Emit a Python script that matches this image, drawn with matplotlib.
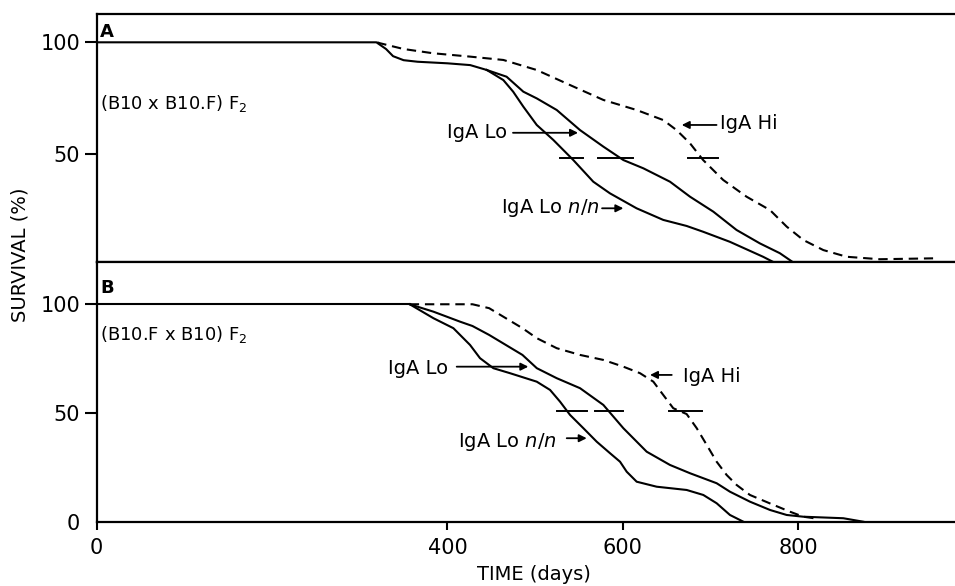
import matplotlib.pyplot as plt

# panel A : (B10 x B10.F) F2
a_common_x = [0, 319, 330, 338, 350, 366, 400, 426, 445]
a_common_y = [100, 100, 97, 93.8, 92, 91.3, 90.6, 89.8, 87.6]
a_lonn_x = [445, 463.8, 475, 486.6, 501.9, 520.8, 543.6, 566.4, 585.4, 615.8, 646.2, 672.8, 691.7, 722.2, 760.1, 780]
a_lonn_y = [87.6, 83.1, 77.9, 71.2, 63.0, 56.3, 47.3, 37.6, 32.4, 25.7, 20.5, 17.8, 15.2, 10.7, 4.0, 0]
a_lo_x = [445, 467.5, 486.6, 501.9, 524.7, 551.3, 577.9, 600.7, 623.5, 653.9, 676.7, 703.3, 729.8, 756.4, 779.2, 800]
a_lo_y = [87.6, 84.6, 77.9, 74.9, 69.7, 60.7, 53.3, 47.3, 43.6, 37.6, 30.9, 24.2, 16.0, 10.0, 5.6, 0]
a_hi_x = [320, 323, 350, 383.6, 425.7, 463.8, 501.9, 539.7, 577.9, 615.8, 646.2, 661.4, 676.7, 691.7, 714.5, 741.2, 768, 787, 806, 828.8, 855.4, 893.2, 954]
a_hi_y = [100, 99.6, 97, 95.1, 93.6, 92.1, 87.6, 80.9, 74.2, 69.7, 65.2, 60.7, 54.8, 47.3, 38.4, 30.9, 24.9, 17.5, 11.5, 7.0, 4.0, 2.9, 3.3]
a_med_y = 48
a_med = [(528.6, 555.1), (572.2, 612.1), (674.8, 709)]

# panel B : (B10.F x B10) F2
b_common_x = [0, 357]
b_common_y = [100, 100]
b_lonn_x = [357, 384, 406.8, 425.8, 437.2, 452.4, 471.4, 501.9, 517.1, 528.5, 539.9, 555.1, 570.3, 585.5, 596.9, 604.5, 615.9, 638.7, 672.9, 691.9, 707.1, 722.3, 737.6]
b_lonn_y = [100, 93.6, 89.0, 81.3, 75.2, 70.6, 68.3, 64.4, 60.6, 55.2, 49.1, 43.0, 36.8, 31.5, 27.6, 23.0, 18.4, 16.1, 14.6, 12.3, 8.5, 3.1, 0]
b_lo_x = [357, 384, 414.4, 428.6, 447.6, 466.6, 485.6, 502, 524.7, 551.3, 577.9, 600.7, 627.3, 653.9, 676.7, 707.1, 722.3, 745.2, 768, 787, 806, 851.6, 874.4]
b_lo_y = [100, 96.6, 92.0, 90.0, 85.9, 81.3, 76.7, 70.6, 66.0, 61.4, 53.7, 43.0, 32.2, 26.1, 22.3, 17.7, 13.8, 9.2, 5.4, 3.1, 2.3, 1.6, 0]
b_hi_x = [357, 428.6, 447.6, 466.6, 485.6, 502, 524.7, 551.3, 577.9, 600.7, 619.7, 634.9, 646.2, 657.6, 672.9, 684.4, 695.8, 707.1, 718.5, 729.9, 745.1, 768, 790.8, 806, 820]
b_hi_y = [100, 100, 98.2, 93.6, 89.0, 84.4, 79.8, 76.7, 74.4, 71.3, 68.3, 64.4, 58.3, 52.2, 49.5, 43.0, 35.3, 27.6, 21.5, 16.9, 12.3, 8.4, 4.6, 2.3, 1.5]
b_med_y = 51
b_med = [(524.7, 558.9), (568.4, 600.7), (653.2, 690.1)]

x_ticks = [0, 400, 600, 800]

lw = 1.5
dash = (0, (4.5, 2.8))
fs = 14

fig = plt.figure(figsize=(9.55, 5.86), dpi=100)
axA = fig.add_axes([0.1013, 0.5529, 0.8987, 0.4232])
axB = fig.add_axes([0.1013, 0.1097, 0.8987, 0.4427])


def draw_panel(ax, cx, cy, lnx, lny, lox, loy, hix, hiy, med_y, med):
    ax.plot(cx, cy, color="black", lw=lw)
    ax.plot(lnx, lny, color="black", lw=lw)
    ax.plot(lox, loy, color="black", lw=lw)
    ax.plot(hix, hiy, color="black", lw=lw, linestyle=dash)
    for x0, x1 in med:
        ax.plot([x0, x1], [med_y, med_y], color="black", lw=1.4)
    ax.set_xlim(0, 979)
    ax.spines["right"].set_visible(False)
    for s in ["top", "left", "bottom"]:
        ax.spines[s].set_linewidth(1.6)
    ax.tick_params(direction="out", width=1.5, labelsize=15)
    ax.tick_params(axis="y", length=9, pad=3)
    ax.tick_params(axis="x", length=6, pad=6)
    ax.set_xticks(x_ticks)


def arrow(ax, x0, y0, x1, y1):
    ax.annotate("", xy=(x1, y1), xytext=(x0, y0),
                arrowprops=dict(arrowstyle="-|>", color="black", lw=1.3,
                                mutation_scale=11, shrinkA=0, shrinkB=0))


draw_panel(axA, a_common_x, a_common_y, a_lonn_x, a_lonn_y, a_lo_x, a_lo_y,
           a_hi_x, a_hi_y, a_med_y, a_med)
axA.set_ylim(1.66, 112.67)
axA.set_yticks([50, 100])
axA.set_xticklabels([])

draw_panel(axB, b_common_x, b_common_y, b_lonn_x, b_lonn_y, b_lo_x, b_lo_y,
           b_hi_x, b_hi_y, b_med_y, b_med)
axB.set_ylim(0, 119.3)
axB.set_yticks([0, 50, 100])
axB.yaxis.get_major_ticks()[0].tick1line.set_visible(False)  # no tick mark at 0

# labels panel A
axA.text(0.004, 0.927, "A", transform=axA.transAxes, fontsize=13, fontweight="bold", va="center")
axA.text(4, 72.8, "(B10 x B10.F) F$_2$", fontsize=13, va="center")
axA.text(468, 59.8, "IgA Lo", fontsize=fs, ha="right", va="center")
arrow(axA, 474.8, 59.5, 549, 59.5)
axA.text(711, 63.5, "IgA Hi", fontsize=fs, ha="left", va="center")
arrow(axA, 707, 63, 667.3, 63)
axA.text(574, 25.8, r"IgA Lo $\mathit{n/n}$", fontsize=fs, ha="right", va="center")
arrow(axA, 576.4, 25.7, 600.7, 25.7)

# labels panel B
axB.text(0.004, 0.901, "B", transform=axB.transAxes, fontsize=13, fontweight="bold", va="center")
axB.text(4, 85.9, "(B10.F x B10) F$_2$", fontsize=13, va="center")
axB.text(400.8, 70.6, "IgA Lo", fontsize=fs, ha="right", va="center")
arrow(axB, 410.6, 71.3, 492.3, 71.3)
axB.text(669.1, 66.7, "IgA Hi", fontsize=fs, ha="left", va="center")
arrow(axB, 655.9, 67.5, 631.1, 67.5)
axB.text(524.7, 36.8, r"IgA Lo $\mathit{n/n}$", fontsize=fs, ha="right", va="center")
arrow(axB, 536.1, 38.4, 558.9, 38.4)

fig.text(20 / 955, 1 - 255 / 586, "SURVIVAL (%)", rotation=90, ha="center", va="center", fontsize=14)
fig.text(534 / 955, 1 - 575 / 586, "TIME (days)", ha="center", va="center", fontsize=14)

plt.savefig("out.png", dpi=100)
